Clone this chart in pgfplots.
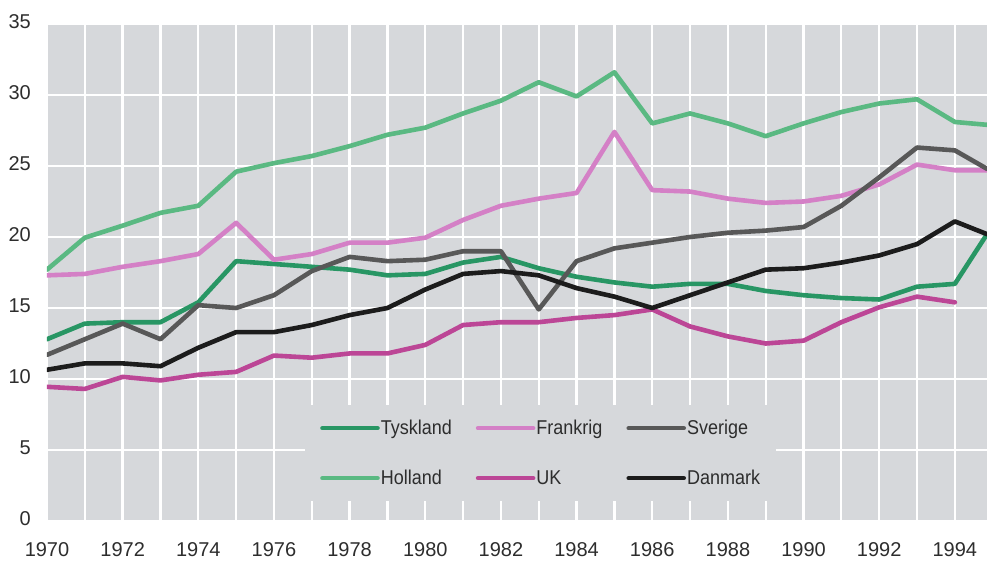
\documentclass[border=0pt]{standalone}
\usepackage{fontspec}
\setmainfont{Liberation Sans}
\newfontfamily\legfont[FakeStretch=0.9]{Liberation Sans}
\usepackage{pgfplots}
\pgfplotsset{compat=1.18}
\definecolor{bg}{RGB}{214,216,219}
\definecolor{cTysk}{RGB}{40,150,100}
\definecolor{cHol}{RGB}{90,185,130}
\definecolor{cFra}{RGB}{212,128,198}
\definecolor{cUK}{RGB}{188,70,150}
\definecolor{cSve}{RGB}{88,88,88}
\definecolor{cDan}{RGB}{28,28,28}
\definecolor{txt}{RGB}{45,45,45}
\begin{document}
\begin{tikzpicture}
\begin{axis}[
  name=ax,
  scale only axis,
  width=940pt, height=497pt,
  xmin=1970, xmax=1994.85, ymin=0, ymax=35,
  axis background/.style={fill=bg},
  axis line style={draw=none},
  major tick length=0pt, minor tick length=0pt,
  xtick={1970,1972,...,1994},
  minor xtick={1971,1972,...,1994},
  ytick={0,5,...,35},
  xticklabels={1970,1972,1974,1976,1978,1980,1982,1984,1986,1988,1990,1992,1994},
  /pgf/number format/assume math mode=true,
  yticklabel={\pgfmathprintnumber[assume math mode=true]{\tick}},
  xmajorgrids, ymajorgrids, xminorgrids,
  major grid style={white, line width=2.3pt},
  minor grid style={white, line width=2.3pt},
  ticklabel style={font=\fontsize{20}{23}\selectfont, text=txt},
  xticklabel style={anchor=center, yshift=-29pt, inner sep=0pt},
  yticklabel style={anchor=east, xshift=-16pt, yshift=2.5pt, inner sep=0pt},
  legend columns=3,
  legend cell align=left,
  legend image code/.code={\draw[#1] (0pt,0pt) -- (55pt,0pt);},
  legend style={at={(axis cs:1976.82,8.17)}, anchor=north west, fill=bg, draw=none,
    inner xsep=15pt, inner ysep=14pt, row sep=32pt,
    font=\legfont\fontsize{20}{22}\selectfont, text=txt,
    nodes={inner xsep=1pt, inner ysep=1pt},
    /tikz/every even column/.append style={column sep=23pt}},
  every axis plot/.append style={line width=4.6pt, line join=round, line cap=round},
]
\addplot[cTysk] coordinates {
(1970,12.8)(1971,13.9)(1972,14.0)(1973,14.0)(1974,15.4)(1975,18.3)(1976,18.1)(1977,17.9)
(1978,17.7)(1979,17.3)(1980,17.4)(1981,18.2)(1982,18.6)(1983,17.8)(1984,17.2)(1985,16.8)
(1986,16.5)(1987,16.7)(1988,16.7)(1989,16.2)(1990,15.9)(1991,15.7)(1992,15.6)(1993,16.5)
(1994,16.7)(1994.85,20.2)};
\addlegendentry{Tyskland}
\addplot[cFra] coordinates {
(1970,17.3)(1971,17.4)(1972,17.9)(1973,18.3)(1974,18.8)(1975,21.0)(1976,18.4)(1977,18.8)
(1978,19.6)(1979,19.6)(1980,19.95)(1981,21.2)(1982,22.2)(1983,22.7)(1984,23.1)(1985,27.4)
(1986,23.3)(1987,23.2)(1988,22.7)(1989,22.4)(1990,22.5)(1991,22.9)(1992,23.7)(1993,25.1)
(1994,24.7)(1994.85,24.7)};
\addlegendentry{Frankrig}
\addplot[cSve] coordinates {
(1970,11.7)(1971,12.8)(1972,13.9)(1973,12.8)(1974,15.2)(1975,15.0)(1976,15.9)(1977,17.6)
(1978,18.6)(1979,18.3)(1980,18.4)(1981,19.0)(1982,19.0)(1983,14.9)(1984,18.3)(1985,19.2)
(1986,19.6)(1987,20.0)(1988,20.3)(1989,20.45)(1990,20.7)(1991,22.2)(1992,24.2)(1993,26.3)
(1994,26.1)(1994.85,24.8)};
\addlegendentry{Sverige}
\addplot[cHol] coordinates {
(1970,17.7)(1971,19.95)(1972,20.8)(1973,21.7)(1974,22.2)(1975,24.6)(1976,25.2)(1977,25.7)
(1978,26.4)(1979,27.2)(1980,27.7)(1981,28.7)(1982,29.6)(1983,30.9)(1984,29.9)(1985,31.6)
(1986,28.0)(1987,28.7)(1988,28.0)(1989,27.1)(1990,28.0)(1991,28.8)(1992,29.4)(1993,29.7)
(1994,28.1)(1994.85,27.9)};
\addlegendentry{Holland}
\addplot[cUK] coordinates {
(1970,9.45)(1971,9.3)(1972,10.15)(1973,9.9)(1974,10.3)(1975,10.5)(1976,11.65)(1977,11.5)
(1978,11.8)(1979,11.8)(1980,12.4)(1981,13.8)(1982,14.0)(1983,14.0)(1984,14.3)(1985,14.5)
(1986,14.9)(1987,13.7)(1988,13.0)(1989,12.5)(1990,12.7)(1991,14.0)(1992,15.05)(1993,15.8)
(1994,15.4)};
\addlegendentry{UK}
\addplot[cDan] coordinates {
(1970,10.65)(1971,11.1)(1972,11.1)(1973,10.9)(1974,12.2)(1975,13.3)(1976,13.3)(1977,13.8)
(1978,14.5)(1979,15.0)(1980,16.3)(1981,17.4)(1982,17.6)(1983,17.3)(1984,16.4)(1985,15.8)
(1986,15.0)(1987,15.9)(1988,16.8)(1989,17.7)(1990,17.8)(1991,18.2)(1992,18.7)(1993,19.5)
(1994,21.1)(1994.85,20.2)};
\addlegendentry{Danmark}
\end{axis}
\pgfresetboundingbox
\path[use as bounding box] ([shift={(-47pt,-39pt)}]ax.south west) rectangle ([shift={(0pt,24pt)}]ax.north east);
\end{tikzpicture}
\end{document}
